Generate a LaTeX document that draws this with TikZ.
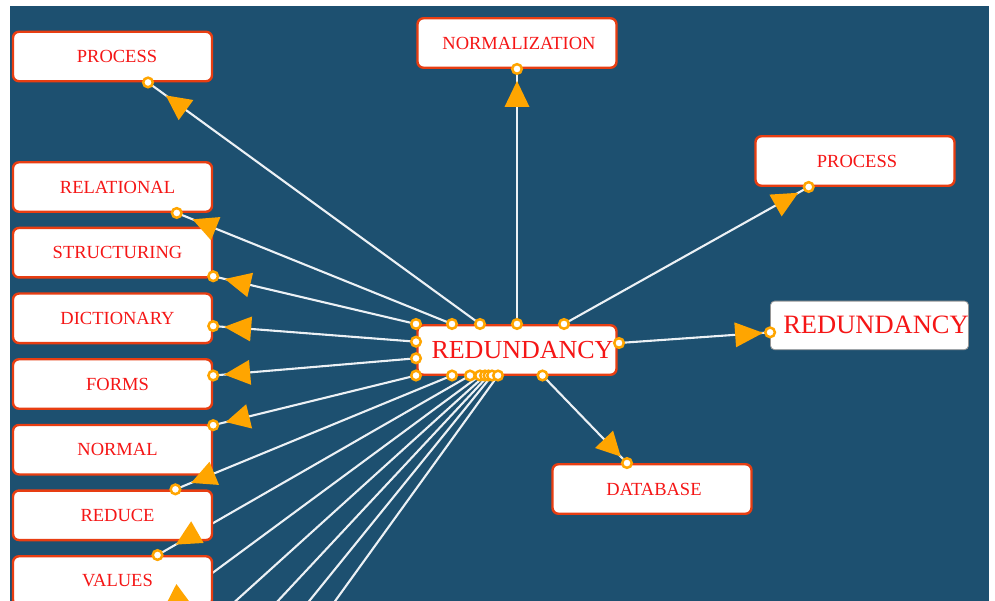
\documentclass[tikz,border=0pt]{standalone}
\usepackage{fontspec}
\setmainfont{Liberation Serif}
\usetikzlibrary{calc}

\definecolor{deepsea}{RGB}{29,80,112}
\definecolor{rimred}{RGB}{232,62,18}
\definecolor{inkred}{RGB}{245,22,22}
\definecolor{tipgold}{RGB}{255,165,0}
\definecolor{wirewhite}{RGB}{236,241,245}
\definecolor{softgray}{RGB}{150,150,150}

\pgfdeclarelayer{behind}
\pgfsetlayers{behind,main}

\tikzset{
  card/.style={draw=rimred, line width=2.4pt, fill=white, rounded corners=6pt,
    minimum width=199pt, minimum height=49.5pt, inner sep=0pt},
  plaincard/.style={draw=softgray, line width=0.8pt, fill=white, rounded corners=4pt,
    minimum width=198pt, minimum height=48.5pt, inner sep=0pt},
  cardtext/.style={text=inkred, font=\fontsize{18.5}{20}\selectfont, inner sep=0pt},
  bigtext/.style={text=inkred, font=\fontsize{26}{28}\selectfont, inner sep=0pt},
  wire/.style={draw=wirewhite, line width=2.1pt},
  tipfill/.style={fill=tipgold},
  portring/.style={draw=tipgold, fill=white, line width=2.5pt},
}

% triangular head: #1 end point, #2 start point, #3 apex offset, #4 base offset
\newcommand\arrowtip[4]{%
  \fill[tipfill] ($(#1)!#3pt!(#2)$)
    -- ($(#1)!#4pt!(#2)!12.5pt!90:(#2)$)
    -- ($(#1)!#4pt!(#2)!12.5pt!-90:(#2)$) -- cycle;}
\newcommand\portmark[1]{\filldraw[portring] (#1) circle (4.8pt);}

\begin{document}
\begin{tikzpicture}[x=1pt,y=-1pt]
\useasboundingbox (0,0) rectangle (995,601);

% boxes
\node[card, label={[cardtext,xshift=4.5pt]center:PROCESS}] (procL) at (112.5,56.5) {};
\node[card, label={[cardtext,xshift=5pt]center:RELATIONAL}] (relat) at (112.5,187) {};
\node[card, label={[cardtext,xshift=5pt]center:STRUCTURING}] (struct) at (112.5,252.7) {};
\node[card, label={[cardtext,xshift=5pt]center:DICTIONARY}] (dict) at (112.5,318.3) {};
\node[card, label={[cardtext,xshift=5pt]center:FORMS}] (forms) at (112.5,384) {};
\node[card, label={[cardtext,xshift=5pt]center:NORMAL}] (normal) at (112.5,449.7) {};
\node[card, label={[cardtext,xshift=5pt]center:REDUCE}] (reduce) at (112.5,515.3) {};
\node[card, label={[cardtext,xshift=5pt]center:VALUES}] (values) at (112.5,581) {};
\node[card, label={[cardtext,xshift=2pt]center:NORMALIZATION}] (normz) at (517,43) {};
\node[card, label={[cardtext,xshift=2pt]center:PROCESS}] (procR) at (855,161) {};
\node[card, label={[bigtext,xshift=5.5pt]center:REDUNDANCY}] (hub) at (517,350) {};
\node[card, label={[cardtext,xshift=2pt]center:DATABASE}] (db) at (652,489) {};
\node[plaincard, label={[bigtext,font=\fontsize{26.5}{28}\selectfont,xshift=6.5pt,yshift=1pt]center:REDUNDANCY}] (redR) at (869.5,325.4) {};

% ports on the hub
\coordinate (tA) at (416,324);
\coordinate (tB) at (452,324);
\coordinate (tC) at (480,324);
\coordinate (tD) at (517,324);
\coordinate (tE) at (564,324);
\coordinate (lA) at (416,341.7);
\coordinate (lB) at (416,358.3);
\coordinate (lC) at (416,375.5);
\coordinate (bA) at (452,375.5);
\coordinate (bB) at (470,375.5);
\coordinate (bC) at (480,375.5);
\coordinate (bD) at (485,375.5);
\coordinate (bE) at (488.5,375.5);
\coordinate (bF) at (492,375.5);
\coordinate (bG) at (498,375.5);
\coordinate (bH) at (542.5,375.5);
\coordinate (rA) at (619,343);

% far ends below the lower edge
\coordinate (farA) at (147.6,620.8);
\coordinate (farB) at (141.2,686.4);
\coordinate (farC) at (136.7,752.1);
\coordinate (farD) at (133.5,817.8);
\coordinate (farE) at (131.2,883.4);

\begin{pgfonlayer}{behind}
  \fill[white] (0,0) rectangle (995,601);
  \fill[deepsea] (10,6) rectangle (989,601);
  \begin{scope}
    \clip (10,6) rectangle (989,601);
    \draw[wire] (tA) -- (struct) coordinate[pos=1] (eStruct);
    \draw[wire] (tB) -- (relat) coordinate[pos=1] (eRelat);
    \draw[wire] (tC) -- (procL) coordinate[pos=1] (eProcL);
    \draw[wire] (tD) -- (normz) coordinate[pos=1] (eNormz);
    \draw[wire] (tE) -- (procR) coordinate[pos=1] (eProcR);
    \draw[wire] (lA) -- (dict) coordinate[pos=1] (eDict);
    \draw[wire] (lB) -- (forms) coordinate[pos=1] (eForms);
    \draw[wire] (lC) -- (normal) coordinate[pos=1] (eNormal);
    \draw[wire] (bA) -- (reduce) coordinate[pos=1] (eReduce);
    \draw[wire] (bB) -- (values) coordinate[pos=1] (eValues);
    \draw[wire] (bC) -- (farA);
    \draw[wire] (bD) -- (farB);
    \draw[wire] (bE) -- (farC);
    \draw[wire] (bF) -- (farD);
    \draw[wire] (bG) -- (farE);
    \draw[wire] (bH) -- (db) coordinate[pos=1] (eDb);
    \draw[wire] (rA) -- (redR) coordinate[pos=1] (eRedR);
  \end{scope}
\end{pgfonlayer}

% arrow heads
\arrowtip{eProcL}{tC}{22}{47}
\arrowtip{eRelat}{tB}{17}{42}
\arrowtip{eStruct}{tA}{12}{38}
\arrowtip{eDict}{lA}{11}{38}
\arrowtip{eForms}{lB}{11}{37}
\arrowtip{eNormal}{lC}{13}{37}
\arrowtip{eReduce}{bA}{17}{42}
\arrowtip{eValues}{bB}{21}{46}
\arrowtip{farA}{bC}{20}{45}
\arrowtip{eNormz}{tD}{12}{38}
\arrowtip{eProcR}{tE}{12}{38}
\arrowtip{eDb}{bH}{9}{33}
\arrowtip{eRedR}{rA}{7}{35}

% port rings
\foreach \p in {tA,tB,tC,tD,tE,lA,lB,lC,bA,bB,bC,bD,bE,bF,bG,bH,rA,
  eProcL,eRelat,eStruct,eDict,eForms,eNormal,eReduce,eValues,eNormz,eProcR,eDb,eRedR}
  {\portmark{\p}}

\end{tikzpicture}
\end{document}
